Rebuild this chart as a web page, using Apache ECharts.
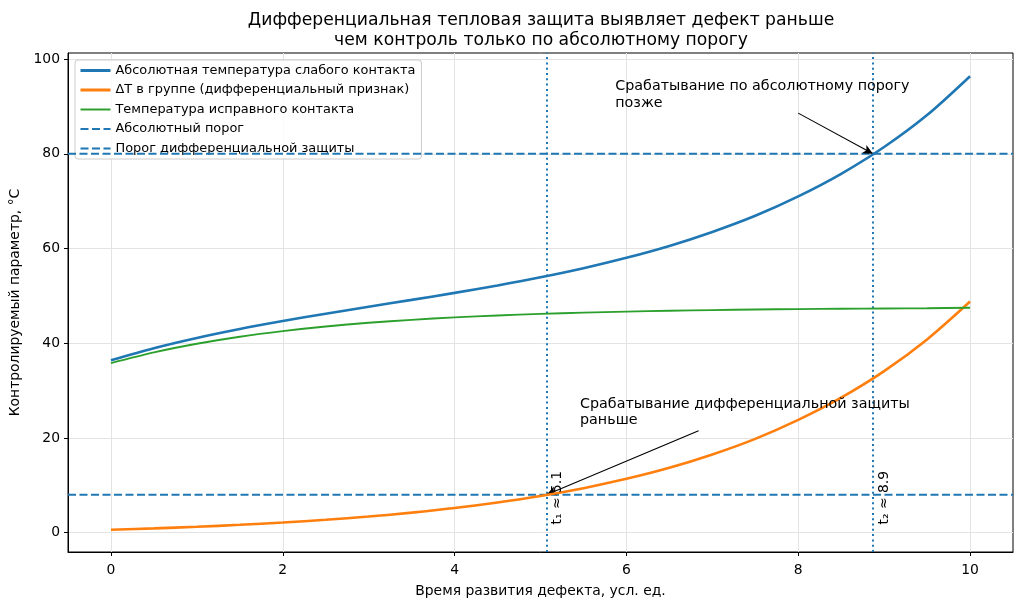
<!DOCTYPE html>
<html>
<head>
<meta charset="utf-8">
<script src="https://cdn.jsdelivr.net/npm/echarts@6/dist/echarts.min.js"></script>
<style>
  html, body { margin: 0; padding: 0; background: #fff; }
  #chart { width: 1024px; height: 608px; }
</style>
</head>
<body>
<div id="chart"></div>
<script>
// время развития дефекта, усл. ед.
const tValues = [0, 0.5, 1, 1.5, 2, 2.5, 3, 3.5, 4, 4.5, 5, 5.5, 6, 6.5, 7, 7.5, 8, 8.5, 9, 9.5, 10];
// абсолютная температура слабого контакта
const hotContact = [36.4, 38.96, 41.12, 43.01, 44.68, 46.23, 47.7, 49.15, 50.63, 52.21, 53.92,
  55.84, 58.03, 60.54, 63.5, 66.91, 71.01, 75.78, 81.44, 88.19, 96.4];
// дельта T в группе
const deltaT = [0.6, 0.89, 1.23, 1.64, 2.12, 2.7, 3.39, 4.21, 5.18, 6.35, 7.73,
  9.38, 11.35, 13.68, 16.5, 19.8, 23.8, 28.5, 34.1, 40.8, 48.8];
// температура исправного контакта
const healthyContact = [35.8, 38.07, 39.89, 41.37, 42.56, 43.53, 44.31, 44.94, 45.45, 45.86, 46.19,
  46.46, 46.68, 46.86, 47.0, 47.11, 47.21, 47.28, 47.34, 47.39, 47.5];

const absThreshold = 80;
const diffThreshold = 8;
const t1 = 5.07;
const t2 = 8.87;

const xTicks = [0, 2, 4, 6, 8, 10];
const yTicks = [0, 20, 40, 60, 80, 100];
const xRange = [-0.5, 10.5];
const yRange = [-4.1, 101.3];

const BLUE = '#1f77b4', ORANGE = '#ff7f0e', GREEN = '#2ca02c';
const FONT = 'DejaVu Sans';
const DASH = [8, 3.5];

const pairs = (ys) => tValues.map((t, i) => [t, ys[i]]);

const chart = echarts.init(document.getElementById('chart'));

const noteLabel = (text, extra) => Object.assign({
  formatter: text, color: '#000', opacity: 1
}, extra || {});

const option = {
  animation: false,
  backgroundColor: '#fff',
  textStyle: { fontFamily: FONT },
  title: {
    text: 'Дифференциальная тепловая защита выявляет дефект раньше\nчем контроль только по абсолютному порогу',
    left: 536,
    top: 5,
    textAlign: 'center',
    textStyle: { fontFamily: FONT, fontSize: 17.2, fontWeight: 'normal', color: '#000', lineHeight: 20.5 }
  },
  grid: {
    left: 68, right: 11, top: 53, bottom: 56,
    show: true, borderColor: '#000', borderWidth: 1,
    outerBoundsMode: 'none'
  },
  legend: {
    left: 75, top: 60,
    orient: 'vertical',
    itemWidth: 30, itemHeight: 12, itemGap: 6.5,
    padding: [4, 6, 4, 4],
    backgroundColor: 'rgba(255,255,255,0.8)',
    borderColor: '#cccccc', borderWidth: 1, borderRadius: 3,
    itemStyle: { opacity: 0 },
    textStyle: { fontFamily: FONT, fontSize: 12.9, color: '#000' },
    data: [
      { name: 'Абсолютная температура слабого контакта', lineStyle: { color: BLUE, width: 3 } },
      { name: 'ΔT в группе (дифференциальный признак)', lineStyle: { color: ORANGE, width: 3 } },
      { name: 'Температура исправного контакта', lineStyle: { color: GREEN, width: 2 } },
      { name: 'Абсолютный порог', lineStyle: { color: BLUE, width: 2, type: DASH } },
      { name: 'Порог дифференциальной защиты', lineStyle: { color: BLUE, width: 2, type: DASH } }
    ]
  },
  xAxis: {
    type: 'value', min: xRange[0], max: xRange[1],
    name: 'Время развития дефекта, усл. ед.',
    nameLocation: 'middle', nameGap: 32,
    nameTextStyle: { fontFamily: FONT, fontSize: 13.9, color: '#000' },
    axisLine: { show: true, onZero: false, lineStyle: { color: '#000' } },
    axisTick: { show: true, length: 4, lineStyle: { color: '#000' }, customValues: xTicks },
    axisLabel: { fontFamily: FONT, fontSize: 13.9, color: '#000', margin: 11, customValues: xTicks },
    splitLine: { show: true, lineStyle: { color: '#e3e3e3', width: 1 }, customValues: xTicks }
  },
  yAxis: {
    type: 'value', min: yRange[0], max: yRange[1],
    name: 'Контролируемый параметр, °C',
    nameLocation: 'middle', nameGap: 41,
    nameTextStyle: { fontFamily: FONT, fontSize: 13.9, color: '#000' },
    axisLine: { show: true, onZero: false, lineStyle: { color: '#000' } },
    axisTick: { show: true, length: 4, lineStyle: { color: '#000' }, customValues: yTicks },
    axisLabel: { fontFamily: FONT, fontSize: 13.9, color: '#000', margin: 8, customValues: yTicks },
    splitLine: { show: true, lineStyle: { color: '#e3e3e3', width: 1 }, customValues: yTicks }
  },
  series: [
    {
      name: 'Абсолютная температура слабого контакта', type: 'line',
      data: pairs(hotContact), smooth: 0.3, showSymbol: false, symbol: 'none',
      color: BLUE, lineStyle: { color: BLUE, width: 2.6 }, z: 5
    },
    {
      name: 'ΔT в группе (дифференциальный признак)', type: 'line',
      data: pairs(deltaT), smooth: 0.3, showSymbol: false, symbol: 'none',
      color: ORANGE, lineStyle: { color: ORANGE, width: 2.6 }, z: 5
    },
    {
      name: 'Температура исправного контакта', type: 'line',
      data: pairs(healthyContact), smooth: 0.3, showSymbol: false, symbol: 'none',
      color: GREEN, lineStyle: { color: GREEN, width: 1.9 }, z: 5
    },
    {
      name: 'Абсолютный порог', type: 'line',
      data: [[xRange[0], absThreshold], [xRange[1], absThreshold]],
      showSymbol: false, symbol: 'none', color: BLUE,
      lineStyle: { color: BLUE, width: 2, type: DASH }, z: 4
    },
    {
      name: 'Порог дифференциальной защиты', type: 'line',
      data: [[xRange[0], diffThreshold], [xRange[1], diffThreshold]],
      showSymbol: false, symbol: 'none', color: BLUE,
      lineStyle: { color: BLUE, width: 2, type: DASH }, z: 4
    },
    {
      // вертикальные линии моментов срабатывания и стрелки аннотаций
      name: 'marks', type: 'line', data: [], silent: true, z: 6,
      markLine: {
        silent: true, animation: false,
        label: { show: false },
        data: [
          [{ coord: [t1, yRange[0]], symbol: 'none' }, { coord: [t1, yRange[1]], symbol: 'none',
            lineStyle: { color: BLUE, width: 2, type: [2, 3.3] } }],
          [{ coord: [t2, yRange[0]], symbol: 'none' }, { coord: [t2, yRange[1]], symbol: 'none',
            lineStyle: { color: BLUE, width: 2, type: [2, 3.3] } }],
          [{ coord: [8.0, 88.6], symbol: 'none' }, { coord: [t2, absThreshold], symbol: 'arrow', symbolSize: [7, 10],
            lineStyle: { color: '#000', width: 1.1, type: 'solid' } }],
          [{ coord: [6.84, 21.5], symbol: 'none' }, { coord: [t1, diffThreshold], symbol: 'arrow', symbolSize: [7, 10],
            lineStyle: { color: '#000', width: 1.1, type: 'solid' } }]
        ]
      }
    },
    {
      // подписи
      name: 'notes', type: 'scatter', symbolSize: 0, silent: true, z: 7,
      itemStyle: { opacity: 1 },
      data: [
        { value: [5.87, 96.0], label: noteLabel('Срабатывание по абсолютному порогу\nпозже', { verticalAlign: 'top' }) },
        { value: [5.46, 28.9], label: noteLabel('Срабатывание дифференциальной защиты\nраньше', { verticalAlign: 'top' }) },
        { value: [t1 + 0.13, 1.7], label: noteLabel('t₁ ≈ 5.1', { rotate: 90, verticalAlign: 'middle', fontSize: 13.9 }) },
        { value: [t2 + 0.13, 1.7], label: noteLabel('t₂ ≈ 8.9', { rotate: 90, verticalAlign: 'middle', fontSize: 13.9 }) }
      ],
      label: {
        show: true, position: 'inside', align: 'left',
        fontFamily: FONT, fontSize: 14.3, color: '#000', lineHeight: 16.5
      }
    }
  ]
};

chart.setOption(option);
</script>
</body>
</html>
